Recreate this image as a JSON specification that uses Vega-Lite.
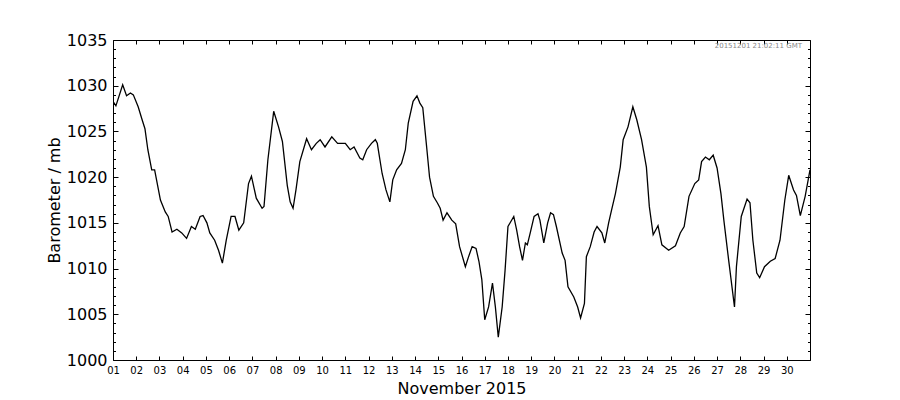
{
  "$schema": "https://vega.github.io/schema/vega-lite/v6.json",
  "width": 697,
  "height": 320,
  "autosize": {"type": "none"},
  "padding": {"left": 113, "top": 40, "right": 90, "bottom": 40},
  "background": "white",
  "config": {"view": {"stroke": null}, "font": "DejaVu Sans"},
  "title": {"text": "20151201 21:02:11 GMT", "anchor": "end", "frame": "group", "offset": -17, "dx": -8, "fontSize": 7, "color": "#888888", "fontWeight": "normal", "font": "DejaVu Sans"},
  "data": {"values": [
    {"time": "2015-11-01T00:00", "pressure": 1028.3},
    {"time": "2015-11-01T03:00", "pressure": 1027.8},
    {"time": "2015-11-01T10:00", "pressure": 1030.1},
    {"time": "2015-11-01T14:00", "pressure": 1028.9},
    {"time": "2015-11-01T18:00", "pressure": 1029.2},
    {"time": "2015-11-01T21:00", "pressure": 1029.0},
    {"time": "2015-11-02T02:00", "pressure": 1027.7},
    {"time": "2015-11-02T06:00", "pressure": 1026.3},
    {"time": "2015-11-02T09:00", "pressure": 1025.3},
    {"time": "2015-11-02T12:00", "pressure": 1023.0},
    {"time": "2015-11-02T16:00", "pressure": 1020.8},
    {"time": "2015-11-02T19:00", "pressure": 1020.8},
    {"time": "2015-11-03T01:00", "pressure": 1017.5},
    {"time": "2015-11-03T06:00", "pressure": 1016.2},
    {"time": "2015-11-03T09:00", "pressure": 1015.7},
    {"time": "2015-11-03T13:00", "pressure": 1014.0},
    {"time": "2015-11-03T18:00", "pressure": 1014.3},
    {"time": "2015-11-03T23:00", "pressure": 1013.9},
    {"time": "2015-11-04T04:00", "pressure": 1013.3},
    {"time": "2015-11-04T09:00", "pressure": 1014.6},
    {"time": "2015-11-04T13:00", "pressure": 1014.3},
    {"time": "2015-11-04T18:00", "pressure": 1015.7},
    {"time": "2015-11-04T21:00", "pressure": 1015.8},
    {"time": "2015-11-05T01:00", "pressure": 1015.0},
    {"time": "2015-11-05T04:00", "pressure": 1013.9},
    {"time": "2015-11-05T09:00", "pressure": 1013.1},
    {"time": "2015-11-05T13:00", "pressure": 1012.0},
    {"time": "2015-11-05T17:00", "pressure": 1010.6},
    {"time": "2015-11-05T21:00", "pressure": 1013.1},
    {"time": "2015-11-06T02:00", "pressure": 1015.7},
    {"time": "2015-11-06T06:00", "pressure": 1015.7},
    {"time": "2015-11-06T10:00", "pressure": 1014.2},
    {"time": "2015-11-06T15:00", "pressure": 1015.0},
    {"time": "2015-11-06T20:00", "pressure": 1019.3},
    {"time": "2015-11-06T23:00", "pressure": 1020.1},
    {"time": "2015-11-07T04:00", "pressure": 1017.7},
    {"time": "2015-11-07T10:00", "pressure": 1016.6},
    {"time": "2015-11-07T12:00", "pressure": 1016.8},
    {"time": "2015-11-07T16:00", "pressure": 1021.9},
    {"time": "2015-11-07T22:00", "pressure": 1027.2},
    {"time": "2015-11-08T03:00", "pressure": 1025.5},
    {"time": "2015-11-08T07:00", "pressure": 1023.9},
    {"time": "2015-11-08T12:00", "pressure": 1019.1},
    {"time": "2015-11-08T15:00", "pressure": 1017.3},
    {"time": "2015-11-08T18:00", "pressure": 1016.6},
    {"time": "2015-11-08T21:00", "pressure": 1018.6},
    {"time": "2015-11-09T01:00", "pressure": 1021.7},
    {"time": "2015-11-09T08:00", "pressure": 1024.2},
    {"time": "2015-11-09T13:00", "pressure": 1023.0},
    {"time": "2015-11-09T18:00", "pressure": 1023.7},
    {"time": "2015-11-09T22:00", "pressure": 1024.1},
    {"time": "2015-11-10T03:00", "pressure": 1023.3},
    {"time": "2015-11-10T10:00", "pressure": 1024.4},
    {"time": "2015-11-10T16:00", "pressure": 1023.7},
    {"time": "2015-11-11T00:00", "pressure": 1023.7},
    {"time": "2015-11-11T05:00", "pressure": 1023.0},
    {"time": "2015-11-11T09:00", "pressure": 1023.3},
    {"time": "2015-11-11T15:00", "pressure": 1022.1},
    {"time": "2015-11-11T18:00", "pressure": 1021.9},
    {"time": "2015-11-11T22:00", "pressure": 1023.0},
    {"time": "2015-11-12T03:00", "pressure": 1023.7},
    {"time": "2015-11-12T07:00", "pressure": 1024.1},
    {"time": "2015-11-12T09:00", "pressure": 1023.7},
    {"time": "2015-11-12T14:00", "pressure": 1020.4},
    {"time": "2015-11-12T18:00", "pressure": 1018.6},
    {"time": "2015-11-12T22:00", "pressure": 1017.3},
    {"time": "2015-11-13T01:00", "pressure": 1019.7},
    {"time": "2015-11-13T05:00", "pressure": 1020.8},
    {"time": "2015-11-13T10:00", "pressure": 1021.5},
    {"time": "2015-11-13T14:00", "pressure": 1023.0},
    {"time": "2015-11-13T17:00", "pressure": 1025.9},
    {"time": "2015-11-13T22:00", "pressure": 1028.3},
    {"time": "2015-11-14T02:00", "pressure": 1028.9},
    {"time": "2015-11-14T05:00", "pressure": 1028.1},
    {"time": "2015-11-14T08:00", "pressure": 1027.6},
    {"time": "2015-11-14T12:00", "pressure": 1023.3},
    {"time": "2015-11-14T15:00", "pressure": 1020.0},
    {"time": "2015-11-14T19:00", "pressure": 1017.9},
    {"time": "2015-11-14T23:00", "pressure": 1017.2},
    {"time": "2015-11-15T02:00", "pressure": 1016.6},
    {"time": "2015-11-15T05:00", "pressure": 1015.3},
    {"time": "2015-11-15T09:00", "pressure": 1016.1},
    {"time": "2015-11-15T14:00", "pressure": 1015.3},
    {"time": "2015-11-15T18:00", "pressure": 1014.9},
    {"time": "2015-11-15T22:00", "pressure": 1012.4},
    {"time": "2015-11-16T04:00", "pressure": 1010.2},
    {"time": "2015-11-16T07:00", "pressure": 1011.2},
    {"time": "2015-11-16T11:00", "pressure": 1012.4},
    {"time": "2015-11-16T15:00", "pressure": 1012.2},
    {"time": "2015-11-16T18:00", "pressure": 1010.8},
    {"time": "2015-11-16T21:00", "pressure": 1008.8},
    {"time": "2015-11-17T00:00", "pressure": 1004.4},
    {"time": "2015-11-17T04:00", "pressure": 1005.8},
    {"time": "2015-11-17T08:00", "pressure": 1008.4},
    {"time": "2015-11-17T11:00", "pressure": 1005.8},
    {"time": "2015-11-17T14:00", "pressure": 1002.5},
    {"time": "2015-11-17T18:00", "pressure": 1005.8},
    {"time": "2015-11-17T21:00", "pressure": 1009.8},
    {"time": "2015-11-18T00:00", "pressure": 1014.6},
    {"time": "2015-11-18T06:00", "pressure": 1015.7},
    {"time": "2015-11-18T09:00", "pressure": 1014.2},
    {"time": "2015-11-18T12:00", "pressure": 1012.4},
    {"time": "2015-11-18T15:00", "pressure": 1010.9},
    {"time": "2015-11-18T18:00", "pressure": 1012.8},
    {"time": "2015-11-18T20:00", "pressure": 1012.6},
    {"time": "2015-11-18T23:00", "pressure": 1013.9},
    {"time": "2015-11-19T03:00", "pressure": 1015.7},
    {"time": "2015-11-19T07:00", "pressure": 1016.0},
    {"time": "2015-11-19T09:00", "pressure": 1015.3},
    {"time": "2015-11-19T13:00", "pressure": 1012.8},
    {"time": "2015-11-19T17:00", "pressure": 1015.0},
    {"time": "2015-11-19T20:00", "pressure": 1016.1},
    {"time": "2015-11-19T23:00", "pressure": 1015.9},
    {"time": "2015-11-20T02:00", "pressure": 1014.6},
    {"time": "2015-11-20T08:00", "pressure": 1011.7},
    {"time": "2015-11-20T11:00", "pressure": 1010.9},
    {"time": "2015-11-20T14:00", "pressure": 1008.0},
    {"time": "2015-11-20T20:00", "pressure": 1006.9},
    {"time": "2015-11-21T00:00", "pressure": 1005.8},
    {"time": "2015-11-21T03:00", "pressure": 1004.6},
    {"time": "2015-11-21T07:00", "pressure": 1006.2},
    {"time": "2015-11-21T09:00", "pressure": 1011.3},
    {"time": "2015-11-21T13:00", "pressure": 1012.4},
    {"time": "2015-11-21T17:00", "pressure": 1014.0},
    {"time": "2015-11-21T20:00", "pressure": 1014.6},
    {"time": "2015-11-22T01:00", "pressure": 1013.9},
    {"time": "2015-11-22T04:00", "pressure": 1012.8},
    {"time": "2015-11-22T08:00", "pressure": 1015.0},
    {"time": "2015-11-22T11:00", "pressure": 1016.4},
    {"time": "2015-11-22T15:00", "pressure": 1018.2},
    {"time": "2015-11-22T20:00", "pressure": 1021.1},
    {"time": "2015-11-22T23:00", "pressure": 1024.1},
    {"time": "2015-11-23T04:00", "pressure": 1025.5},
    {"time": "2015-11-23T09:00", "pressure": 1027.7},
    {"time": "2015-11-23T13:00", "pressure": 1026.3},
    {"time": "2015-11-23T18:00", "pressure": 1024.1},
    {"time": "2015-11-23T23:00", "pressure": 1021.1},
    {"time": "2015-11-24T02:00", "pressure": 1016.8},
    {"time": "2015-11-24T06:00", "pressure": 1013.7},
    {"time": "2015-11-24T11:00", "pressure": 1014.7},
    {"time": "2015-11-24T15:00", "pressure": 1012.6},
    {"time": "2015-11-24T22:00", "pressure": 1012.0},
    {"time": "2015-11-25T05:00", "pressure": 1012.5},
    {"time": "2015-11-25T10:00", "pressure": 1013.9},
    {"time": "2015-11-25T14:00", "pressure": 1014.6},
    {"time": "2015-11-25T19:00", "pressure": 1017.9},
    {"time": "2015-11-26T01:00", "pressure": 1019.3},
    {"time": "2015-11-26T05:00", "pressure": 1019.7},
    {"time": "2015-11-26T08:00", "pressure": 1021.7},
    {"time": "2015-11-26T12:00", "pressure": 1022.2},
    {"time": "2015-11-26T16:00", "pressure": 1021.9},
    {"time": "2015-11-26T20:00", "pressure": 1022.4},
    {"time": "2015-11-27T00:00", "pressure": 1021.0},
    {"time": "2015-11-27T04:00", "pressure": 1018.2},
    {"time": "2015-11-27T07:00", "pressure": 1015.3},
    {"time": "2015-11-27T12:00", "pressure": 1010.9},
    {"time": "2015-11-27T18:00", "pressure": 1005.8},
    {"time": "2015-11-27T20:00", "pressure": 1010.2},
    {"time": "2015-11-28T01:00", "pressure": 1015.7},
    {"time": "2015-11-28T07:00", "pressure": 1017.6},
    {"time": "2015-11-28T10:00", "pressure": 1017.2},
    {"time": "2015-11-28T13:00", "pressure": 1013.1},
    {"time": "2015-11-28T17:00", "pressure": 1009.5},
    {"time": "2015-11-28T20:00", "pressure": 1009.0},
    {"time": "2015-11-29T01:00", "pressure": 1010.2},
    {"time": "2015-11-29T07:00", "pressure": 1010.8},
    {"time": "2015-11-29T12:00", "pressure": 1011.1},
    {"time": "2015-11-29T17:00", "pressure": 1013.1},
    {"time": "2015-11-29T22:00", "pressure": 1017.5},
    {"time": "2015-11-30T02:00", "pressure": 1020.2},
    {"time": "2015-11-30T07:00", "pressure": 1018.6},
    {"time": "2015-11-30T10:00", "pressure": 1018.0},
    {"time": "2015-11-30T14:00", "pressure": 1015.8},
    {"time": "2015-11-30T19:00", "pressure": 1017.9},
    {"time": "2015-12-01T00:00", "pressure": 1020.8}
  ]},
  "layer": [
    {
      "mark": {"type": "line", "color": "black", "strokeWidth": 1.3, "clip": true},
      "encoding": {
        "x": {
          "field": "time", "type": "temporal",
          "scale": {"domain": [{"year": 2015, "month": 11, "date": 1}, {"year": 2015, "month": 12, "date": 1}]},
          "axis": {
            "orient": "bottom", "title": "November 2015", "titleFontSize": 16, "titleFontWeight": "normal", "titleColor": "black", "titlePadding": 5,
            "format": "%d", "tickCount": {"interval": "day", "step": 1},
            "labelExpr": "month(datum.value) == 10 ? timeFormat(datum.value, '%d') : ''",
            "labelFontSize": 10, "labelColor": "black", "labelFlush": false, "labelOverlap": false, "labelBound": false,
            "tickSize": -4, "labelPadding": 9, "tickColor": "black", "domainColor": "black", "domainWidth": 1, "grid": false
          }
        },
        "y": {
          "field": "pressure", "type": "quantitative",
          "scale": {"domain": [1000, 1035], "nice": false, "zero": false},
          "axis": {
            "orient": "left", "title": "Barometer / mb", "titleFontSize": 16, "titleFontWeight": "normal", "titleColor": "black", "titlePadding": 4,
            "format": "d",
            "values": [1000,1001,1002,1003,1004,1005,1006,1007,1008,1009,1010,1011,1012,1013,1014,1015,1016,1017,1018,1019,1020,1021,1022,1023,1024,1025,1026,1027,1028,1029,1030,1031,1032,1033,1034,1035],
            "labelExpr": "datum.value % 5 === 0 ? datum.label : ''",
            "labelFontSize": 16, "labelColor": "black", "labelFlush": false, "labelOverlap": false, "labelBound": false,
            "tickSize": {"condition": {"test": "datum.value % 5 === 0", "value": -5}, "value": -2.5},
            "labelPadding": 11, "tickColor": "black", "domainColor": "black", "domainWidth": 1, "grid": false
          }
        }
      }
    },
    {
      "mark": {"type": "line", "opacity": 0},
      "encoding": {
        "x": {
          "field": "time", "type": "temporal",
          "axis": {"orient": "top", "title": null, "labels": false, "tickCount": {"interval": "day", "step": 1}, "tickSize": -4, "tickColor": "black", "domainColor": "black", "domainWidth": 1, "grid": false}
        },
        "y": {
          "field": "pressure", "type": "quantitative",
          "axis": {
            "orient": "right", "title": null, "labels": false,
            "values": [1000,1001,1002,1003,1004,1005,1006,1007,1008,1009,1010,1011,1012,1013,1014,1015,1016,1017,1018,1019,1020,1021,1022,1023,1024,1025,1026,1027,1028,1029,1030,1031,1032,1033,1034,1035],
            "tickSize": {"condition": {"test": "datum.value % 5 === 0", "value": -5}, "value": -2.5},
            "tickColor": "black", "domainColor": "black", "domainWidth": 1, "grid": false
          }
        }
      }
    }
  ],
  "resolve": {"axis": {"x": "independent", "y": "independent"}}
}
